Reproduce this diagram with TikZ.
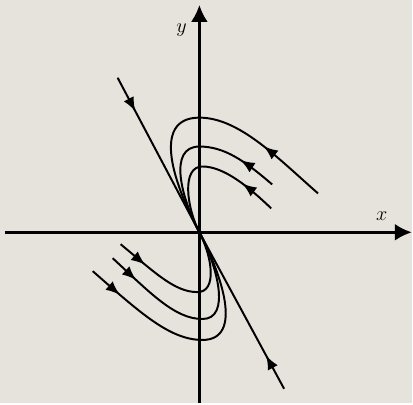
\documentclass[tikz,border=0pt]{standalone}
\usepackage{tikz}
\usetikzlibrary{arrows.meta,decorations.markings}
\definecolor{paperbg}{HTML}{E6E3DD}

\begin{document}
\begin{tikzpicture}[x=0.025cm, y=0.025cm,
  axis/.style={line width=1.8pt, -{Latex[length=12pt,width=12pt]}},
  orbit/.style={line width=1.4pt},
  flowat/.style={postaction={decorate, decoration={markings,
    mark=at position #1 with {\arrow{Latex[length=10pt,width=8pt]}}}}}]
  % paper
  \fill[paperbg] (-200,-171) rectangle (213,233);

  % Axes
  \coordinate (O) at (0,0);
  \coordinate (xl) at (-195,0);
  \coordinate (xr) at (213,0);
  \coordinate (yb) at (0,-171);
  \coordinate (yt) at (0,228);
  \draw[axis] (xl) -- (xr);
  \draw[axis] (yb) -- (yt);
  \node (xlab) at (183,16) {\Large $x$};
  \node (ylab) at (-18,203) {\Large $y$};

  % Straight-line solution
  \coordinate (lineup) at (-82,155);
  \coordinate (linedn) at (85,-157);
  \draw[orbit, flowat=0.95cm] (lineup) -- (O);
  \draw[orbit, flowat=0.95cm] (linedn) -- (O);

  % Upper orbits
  \draw[orbit, flowat=1.8cm] (119,39) .. controls (79,74) and (40,115) .. (0,115)
    .. controls (-50,115) and (-24,45) .. (O);
  \draw[orbit, flowat=1.0cm] (73,48) .. controls (45,72) and (25,86) .. (0,86)
    .. controls (-32,86) and (-18,34) .. (O);
  \draw[orbit, flowat=0.95cm] (72,24) .. controls (50,45) and (25,66) .. (3,66)
    .. controls (-18,66) and (-13,25) .. (O);

  % Lower orbits
  \draw[orbit, flowat=0.8cm] (-79,-12) .. controls (-45,-40) and (-25,-60) .. (-2,-60)
    .. controls (18,-60) and (13,-25) .. (O);
  \draw[orbit, flowat=0.8cm] (-87,-26) .. controls (-50,-60) and (-25,-87) .. (3,-87)
    .. controls (32,-87) and (18,-34) .. (O);
  \draw[orbit, flowat=0.9cm] (-107,-39) .. controls (-60,-80) and (-30,-108) .. (3,-108)
    .. controls (45,-108) and (22,-42) .. (O);
\end{tikzpicture}
\end{document}
